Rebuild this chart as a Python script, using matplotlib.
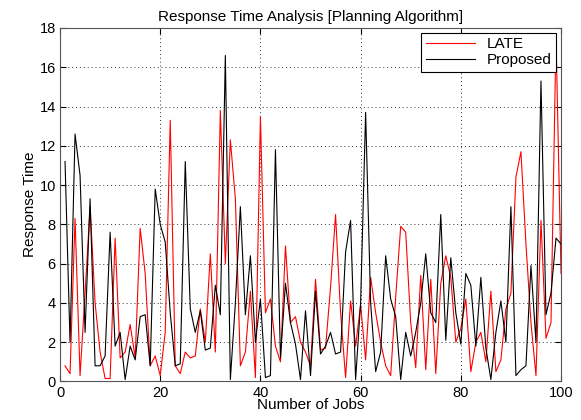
import matplotlib
matplotlib.use('Agg')
import matplotlib.pyplot as plt

plt.rcParams['font.family'] = ['Liberation Sans', 'DejaVu Sans']

jobs = list(range(1, 101))

late = [0.8, 0.4, 8.3, 0.3, 4.5, 8.9, 4.0, 1.5, 0.15, 0.15,
        7.3, 1.2, 1.5, 2.9, 1.2, 7.8, 5.5, 0.8, 1.3, 0.3,
        2.5, 13.3, 0.8, 0.4, 1.5, 1.2, 1.3, 3.7, 2.0, 6.5,
        1.5, 13.8, 6.0, 12.3, 9.3, 0.8, 1.5, 4.6, 0.2, 13.5,
        3.5, 4.2, 1.8, 1.0, 6.9, 3.0, 3.3, 2.0, 1.5, 0.8,
        5.2, 1.6, 1.7, 4.8, 8.5, 3.5, 0.2, 4.1, 1.8, 3.9,
        1.1, 5.3, 3.5, 2.0, 0.8, 0.3, 4.3, 7.9, 7.6, 3.0,
        0.7, 5.4, 0.6, 5.2, 0.4, 5.0, 6.4, 5.3, 2.0, 2.7,
        4.2, 0.5, 2.0, 2.5, 1.0, 4.6, 0.5, 1.1, 3.7, 4.5,
        10.4, 11.7, 7.0, 3.0, 0.3, 8.2, 2.2, 3.0, 17.6, 5.5]

proposed = [11.2, 2.0, 12.6, 10.5, 2.5, 9.3, 0.8, 0.8, 1.3, 7.6,
            1.8, 2.5, 0.1, 1.8, 1.1, 3.3, 3.4, 0.8, 9.8, 8.0,
            7.1, 3.5, 0.8, 0.9, 11.2, 3.7, 2.5, 3.6, 1.6, 1.7,
            4.9, 3.4, 16.6, 0.1, 4.0, 8.9, 3.4, 6.4, 2.0, 4.2,
            0.2, 0.3, 11.8, 1.2, 5.0, 3.0, 1.9, 0.1, 3.6, 0.3,
            4.6, 1.4, 1.8, 2.5, 1.4, 1.5, 6.6, 8.2, 0.1, 4.0,
            13.7, 4.0, 0.5, 1.5, 6.4, 4.2, 3.3, 0.1, 2.5, 1.3,
            2.5, 4.0, 6.5, 3.5, 3.0, 8.5, 2.1, 6.3, 3.5, 1.9,
            5.5, 4.9, 1.8, 5.3, 1.7, 0.1, 2.5, 4.1, 2.0, 8.9,
            0.3, 0.6, 0.8, 5.9, 2.0, 15.3, 3.4, 4.5, 7.3, 7.0]

fig = plt.figure(figsize=(5.81, 4.20), dpi=100)
ax = fig.add_axes([0.1033, 0.0917, 0.8623, 0.8417])

ax.plot(jobs, late, color='red', linewidth=0.8, label='LATE')
ax.plot(jobs, proposed, color='black', linewidth=0.8, label='Proposed')

ax.set_xlim(0, 100)
ax.set_ylim(0, 18)
ax.set_xticks(range(0, 101, 20))
ax.set_yticks(range(0, 19, 2))
ax.tick_params(direction='in', labelsize=10.5, length=4, top=True, right=True, pad=3)
ax.grid(True, linestyle=(0, (1, 3)), color='#333333', linewidth=0.7)
for s in ax.spines.values():
    s.set_color('#555555')

ax.set_title('Response Time Analysis [Planning Algorithm]', fontsize=11, pad=5)
ax.set_xlabel('Number of Jobs', fontsize=11, labelpad=-1)
ax.set_ylabel('Response Time', fontsize=11, labelpad=2)

leg = ax.legend(loc='upper right', fontsize=11, fancybox=False, framealpha=1,
                edgecolor='black', borderaxespad=0.3, handlelength=3.2,
                labelspacing=0.15, borderpad=0.3)
leg.get_frame().set_linewidth(0.8)

fig.savefig('out.png', dpi=100)
